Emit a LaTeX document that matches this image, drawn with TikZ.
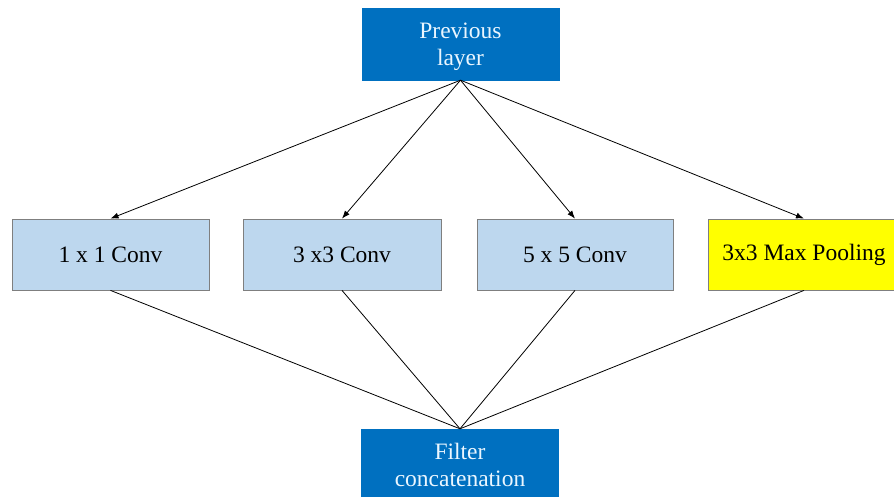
\documentclass[tikz,border=0pt]{standalone}
\usepackage{fontspec}
\setmainfont{Liberation Serif}
\usetikzlibrary{arrows.meta}
\definecolor{darkbox}{HTML}{0070C0}
\definecolor{lightbox}{HTML}{BDD7EE}
\definecolor{poolbox}{HTML}{FFFF00}
\definecolor{boxedge}{HTML}{7F7F7F}
\definecolor{paletext}{HTML}{EAF6FF}
\tikzset{
  layerbox/.style={rectangle, inner sep=0pt, minimum height=71pt,
    font=\fontsize{23.5}{27}\selectfont, align=center},
  headbox/.style={layerbox, fill=darkbox, draw=darkbox, text=paletext, minimum width=197pt, minimum height=72pt},
  convbox/.style={layerbox, fill=lightbox, draw=boxedge, line width=0.8pt, text=black},
  poolstyle/.style={layerbox, fill=poolbox, draw=boxedge, line width=0.8pt, text=black},
  feed/.style={line width=0.8pt, -{Latex[length=8pt,width=6pt]}},
  merge/.style={line width=0.8pt}
}
\begin{document}
\begin{tikzpicture}[x=1pt,y=-1pt]
\useasboundingbox (0,0) rectangle (894,497);
\clip (0,0) rectangle (894,497);
\fill[white] (0,0) rectangle (894,497);
% input and output blocks
\node[headbox, text depth=-2pt] (prev) at (460.5,44) {Previous\\layer};
\node[headbox] (concat) at (460,465) {Filter\\concatenation};
% parallel branches
\node[convbox, minimum width=197pt] (c1) at (110.5,254.5) {1 x 1 Conv};
\node[convbox, minimum width=198pt] (c3) at (342,254.5) {3 x3 Conv};
\node[convbox, minimum width=196pt] (c5) at (575,254.5) {5 x 5 Conv};
\node[poolstyle, minimum width=192pt] (pool) at (804,254.5) {3x3 Max Pooling};
% fan-out
\foreach \b in {c1,c3,c5,pool}
  \draw[feed] (prev.south) -- (\b.north);
% fan-in
\foreach \b in {c1,c3,c5,pool}
  \draw[merge] (\b.south) -- (concat.north);
\end{tikzpicture}
\end{document}
